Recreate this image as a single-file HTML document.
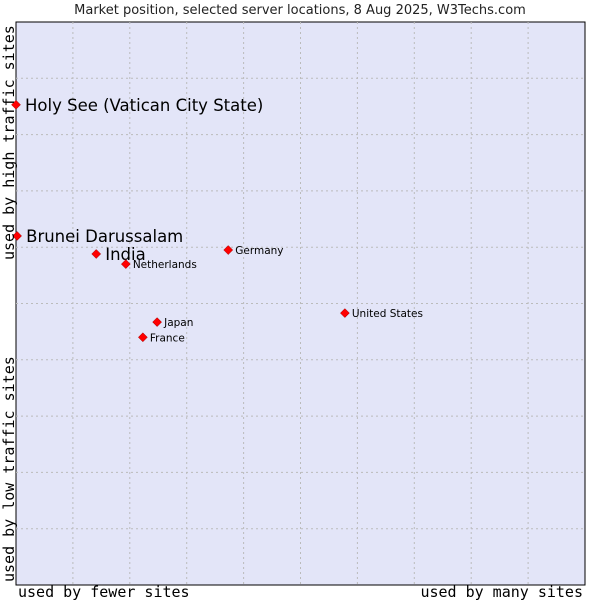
<!DOCTYPE html>
<html><head><meta charset="utf-8"><style>
html,body{margin:0;padding:0;background:#fff;width:600px;height:600px;overflow:hidden}
svg{display:block}
</style></head><body>
<svg id="chart" width="600" height="600" xmlns="http://www.w3.org/2000/svg">
<text x="300" y="14" text-anchor="middle" font-family="DejaVu Sans, sans-serif" font-size="13" fill="#222">Market position, selected server locations, 8 Aug 2025, W3Techs.com</text>
<rect x="16" y="22" width="569" height="563" fill="#e3e5f8" stroke="#000" stroke-width="1"/>
<g id="grid"></g>
<g id="points"></g>
<text transform="translate(14,260) rotate(-90)" font-family="DejaVu Sans Mono, monospace" font-size="15" fill="#000">used by high traffic sites</text>
<text transform="translate(14,582) rotate(-90)" font-family="DejaVu Sans Mono, monospace" font-size="15" fill="#000">used by low traffic sites</text>
<text x="18" y="597" font-family="DejaVu Sans Mono, monospace" font-size="15" fill="#000">used by fewer sites</text>
<text x="583" y="597" text-anchor="end" font-family="DejaVu Sans Mono, monospace" font-size="15" fill="#000">used by many sites</text>
</svg>
<script>
const names = ["Holy See (Vatican City State)","Brunei Darussalam","India","Netherlands","Germany","United States","Japan","France"];
const xValues = [0,0.2,14.1,19.3,37.3,57.8,24.8,22.3];
const yValues = [85.3,62.0,58.8,57.0,59.5,48.3,46.7,44.0];
const highlighted = [true,true,true,false,false,false,false,false];
const L=16,T=22,W=569,H=563;
const xs=v=>L+v/100*W, ys=v=>T+H-v/100*H;
const NS="http://www.w3.org/2000/svg";
const grid=document.getElementById('grid');
for(let i=1;i<10;i++){
  const l=document.createElementNS(NS,'line');
  
  
  const x=L+i*W/10;
  l.setAttribute('x1',x);l.setAttribute('x2',x);l.setAttribute('y1',T);l.setAttribute('y2',T+H);
  l.setAttribute('stroke','#bbb');l.setAttribute('stroke-dasharray','2,3');
  grid.appendChild(l);
  const h=document.createElementNS(NS,'line');
  
  
  const y=T+i*H/10;
  h.setAttribute('x1',L);h.setAttribute('x2',L+W);h.setAttribute('y1',y);h.setAttribute('y2',y);
  h.setAttribute('stroke','#bbb');h.setAttribute('stroke-dasharray','2,3');
  grid.appendChild(h);
}
const pts=document.getElementById('points');
names.forEach((n,i)=>{
  const x=xs(xValues[i]),y=ys(yValues[i]);
  const p=document.createElementNS(NS,'polygon');
  
  
  p.setAttribute('points',`${x},${y-4.5} ${x+4.5},${y} ${x},${y+4.5} ${x-4.5},${y}`);
  p.setAttribute('fill','#f00');p.setAttribute('stroke','#900');p.setAttribute('stroke-width','0.5');
  pts.appendChild(p);
  const t=document.createElementNS(NS,'text');
  
  
  const big=highlighted[i];
  t.setAttribute('x',x+(big?9:7));t.setAttribute('y',y+(big?6:4));
  t.setAttribute('font-family','DejaVu Sans, sans-serif');
  t.setAttribute('font-size',big?16.5:10.5);
  t.setAttribute('fill','#000');
  t.textContent=n;
  pts.appendChild(t);
});
</script>
</body></html>
